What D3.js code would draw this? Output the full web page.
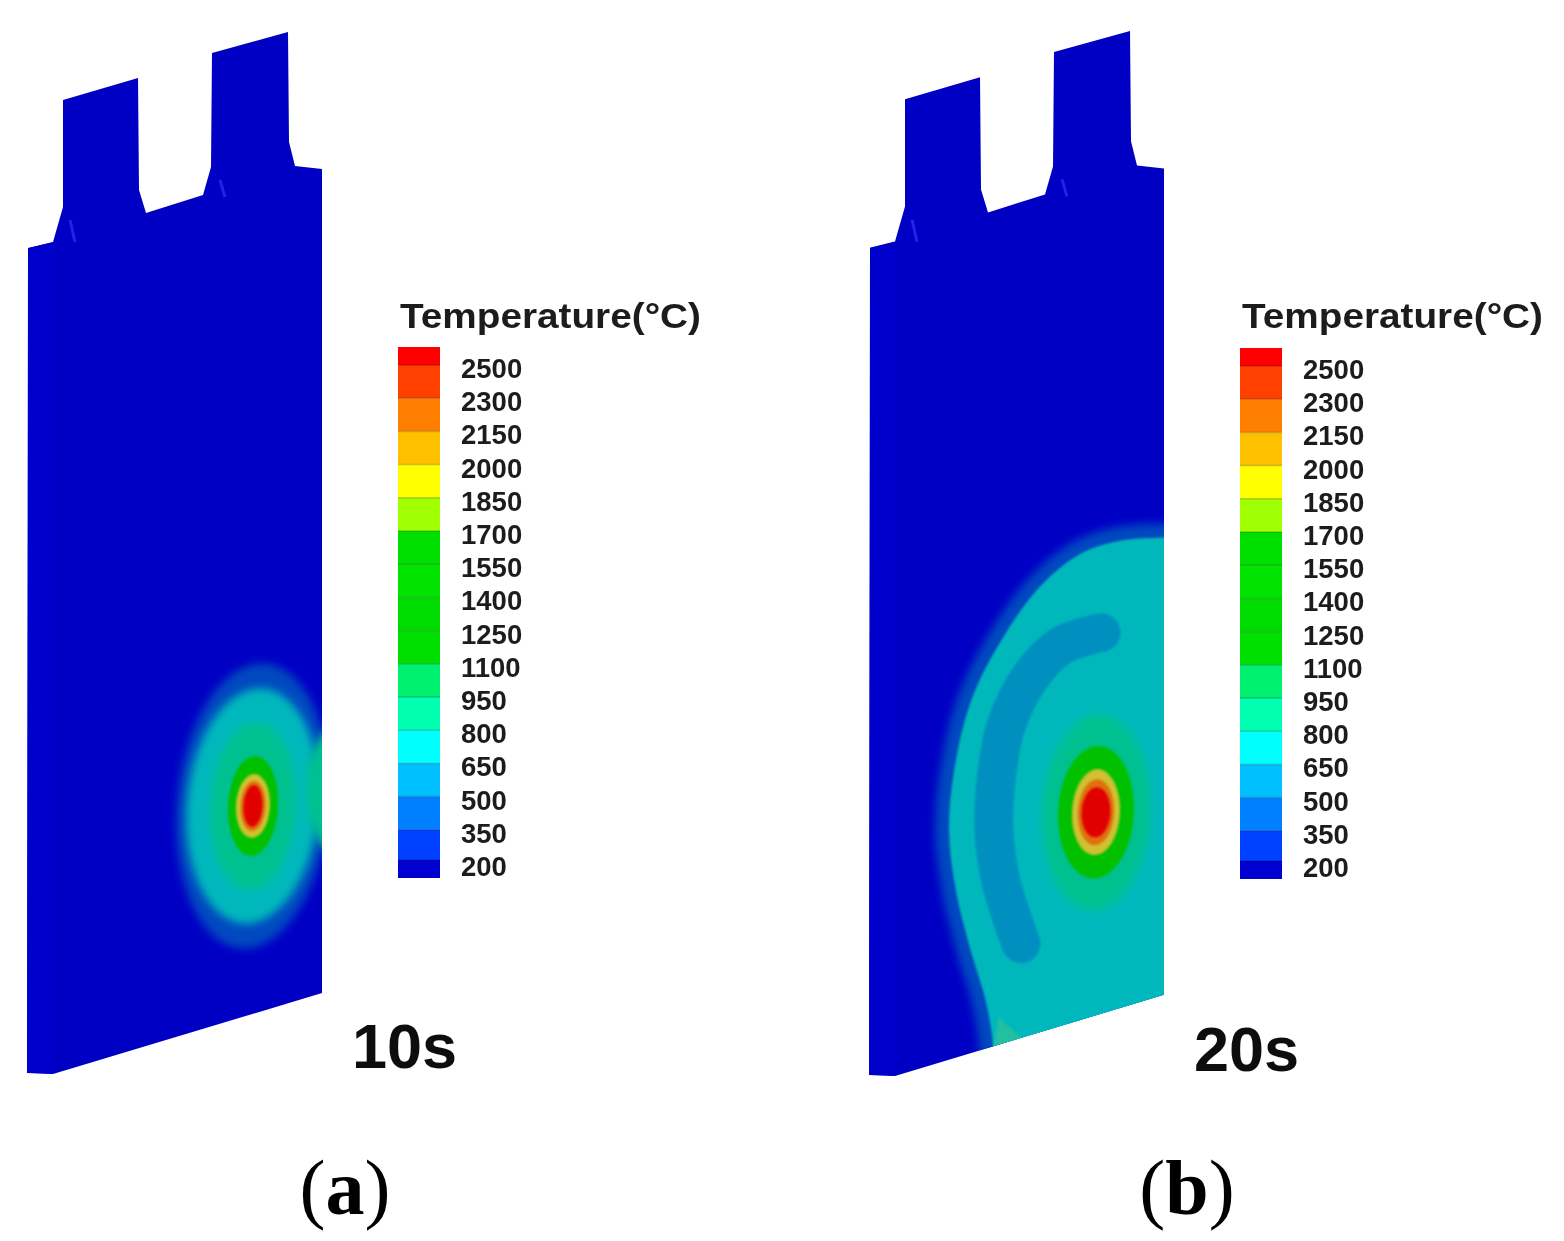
<!DOCTYPE html>
<html>
<head>
<meta charset="utf-8">
<script src="https://cdnjs.cloudflare.com/ajax/libs/d3/7.8.5/d3.min.js"></script>
<style>
html, body { margin: 0; background: #fff; }
svg { display: block; }
</style>
</head>
<body>
<svg id="ch" width="1564" height="1241"></svg>
<script>
// legend
var legendTitle = "Temperature(°C)";
var legendLabels = [2500, 2300, 2150, 2000, 1850, 1700, 1550, 1400, 1250, 1100, 950, 800, 650, 500, 350, 200];
var legendColors = ["#ff0000", "#ff4000", "#ff8000", "#ffc000", "#ffff00", "#a0ff00", "#00e000", "#00e400", "#00dc00", "#00e000",
    "#00f070", "#00ffb0", "#00ffff", "#00c0ff", "#0080ff", "#0040ff", "#0000d0"];

// plate outline, plate units
var plateOutline = [[2,218],[27,212],[31,198],[37,177],[37,70],[112,48],[113,160],[120,183],[177,165],[185,137],[186,23],
    [262,2],[263,112],[269,136],[296,139],[296,963],[27,1044],[1,1043]];
var plateSide = [[2,218],[27,212],[27,1044],[1,1043]];
var tabMarks = [[[44,190],[49,212]], [[194,150],[199,167]], [[23,214],[23,1043]]];

// temperature rings around the hot spot: half width, half height
var ringTemps = [500, 800, 950, 1250, 1850, 2150, 2500];
var ringsA = [[76,143],[66,118],[43,84],[25,50],[17,32],[12.5,25],[9.5,21]];
var ringsB = [[54,98],[38,66],[24,43],[18,33],[14.5,25]];
var ringTempsB = [950, 1250, 1850, 2150, 2500];
var spotA = [227,776];
var spotB = [228,781];
var edgeBandA = [318,760,38,68];

// 20 s: spread front, cooler arc, corner patch
var frontB = [[300,507],[253,510],[213,523],[173,555],[133,610],[103,670],[86,740],[81,800],[88,860],[103,920],[118,970],[126,1020],[128,1060]];
var frontCloseB = [[320,1060],[320,507]];
var arcB = [[233,602],[193,615],[163,645],[138,695],[128,750],[126,800],[133,850],[153,912]];
var cornerB = [[125,1018],[131,985],[150,1003],[160,1015]];
var rightEdgeB = [[296,510],[296,963]];

var panelLabels = ["10s", "20s"];
var panelLetters = ["a", "b"];

// colours on the plate are darker than the legend
var plateColor = d3.scaleOrdinal()
    .domain([500, 650, 800, 950, 1250, 1850, 2150, 2500])
    .range(["#0048c0", "#0090c0", "#00b8bc", "#00c090", "#00c000", "#d0c030", "#e07010", "#e00000"]);

var svg = d3.select("#ch");
var defs = svg.append("defs");

function blur(id, dev) {
    defs.append("filter").attr("id", id)
        .attr("x", "-30%").attr("y", "-30%").attr("width", "160%").attr("height", "160%")
        .append("feGaussianBlur").attr("stdDeviation", dev);
}
blur("soft", 4);
blur("softer", 1.3);
blur("edge", 0.7);
blur("txt", 0.7);

var panels = [
    {id: "a", x: d3.scaleLinear().domain([0,296]).range([26,322]), y: d3.scaleLinear().domain([0,1045]).range([30,1075])},
    {id: "b", x: d3.scaleLinear().domain([0,296]).range([868,1164]), y: d3.scaleLinear().domain([0,1045]).range([29,1077])}
];

panels.forEach(function (p, i) {
    var line = d3.line().x(function (d) { return p.x(d[0]); }).y(function (d) { return p.y(d[1]); });
    var smooth = d3.line().x(function (d) { return p.x(d[0]); }).y(function (d) { return p.y(d[1]); }).curve(d3.curveCatmullRom);

    defs.append("clipPath").attr("id", "clip" + p.id)
        .append("path").attr("d", line(plateOutline) + "Z");

    var g = svg.append("g");
    g.append("path").attr("d", line(plateOutline) + "Z")
        .attr("fill", "#0000c4").attr("filter", "url(#edge)");

    var field = g.append("g").attr("clip-path", "url(#clip" + p.id + ")");
    field.append("path").attr("d", line(plateSide) + "Z").attr("fill", "#0000cc");

    tabMarks.forEach(function (m) {
        field.append("path").attr("d", line(m))
            .attr("stroke", "#2020ea").attr("stroke-width", 3).attr("fill", "none").attr("filter", "url(#edge)");
    });

    function rings(list, temps, spot, tilt) {
        list.forEach(function (r, k) {
            field.append("ellipse")
                .attr("cx", p.x(spot[0])).attr("cy", p.y(spot[1]))
                .attr("rx", p.x(r[0]) - p.x(0)).attr("ry", p.y(r[1]) - p.y(0))
                .attr("transform", "rotate(" + tilt + " " + p.x(spot[0]) + " " + p.y(spot[1]) + ")")
                .attr("fill", plateColor(temps[k]))
                .attr("filter", temps[k] > 950 ? "url(#softer)" : "url(#soft)");
        });
    }

    if (p.id === "a") {
        rings(ringsA.slice(0, 2), ringTemps.slice(0, 2), spotA, 5);
        field.append("ellipse")
            .attr("cx", p.x(edgeBandA[0])).attr("cy", p.y(edgeBandA[1]))
            .attr("rx", p.x(edgeBandA[2]) - p.x(0)).attr("ry", p.y(edgeBandA[3]) - p.y(0))
            .attr("fill", plateColor(950)).attr("filter", "url(#soft)");
        rings(ringsA.slice(2), ringTemps.slice(2), spotA, 3);
    } else {
        var frontPath = smooth(frontB) + "L" + frontCloseB.map(function (d) { return p.x(d[0]) + "," + p.y(d[1]); }).join("L") + "Z";
        field.append("path").attr("d", frontPath)
            .attr("fill", plateColor(800)).attr("stroke", plateColor(500)).attr("stroke-width", 28)
            .attr("filter", "url(#soft)");
        field.append("path").attr("d", frontPath)
            .attr("fill", plateColor(800)).attr("filter", "url(#softer)");
        field.append("path").attr("d", smooth(arcB))
            .attr("fill", "none").attr("stroke", plateColor(650)).attr("stroke-width", 39)
            .attr("stroke-linecap", "round").attr("filter", "url(#softer)");
        field.append("path").attr("d", line(cornerB) + "Z")
            .attr("fill", "#20c0a0").attr("filter", "url(#softer)");
        rings(ringsB, ringTempsB, spotB, 3);
        field.append("path").attr("d", line(rightEdgeB))
            .attr("stroke", "#00a0a0").attr("stroke-width", 5).attr("fill", "none").attr("filter", "url(#edge)");
    }

    // legend
    var lx = i === 0 ? 398 : 1240;
    var dy = i === 0 ? 0 : 1;
    var ly = d3.scaleLinear().domain([0, legendLabels.length - 1]).range([368 + dy, 866 + dy]);
    var edges = [347 + dy].concat(legendLabels.map(function (d, k) { return ly(k) - (k === 15 ? 6 : 3); }), [878 + dy]);

    var bar = svg.append("g").attr("filter", "url(#edge)");
    bar.selectAll("rect")
        .data(legendColors).enter().append("rect")
        .attr("x", lx).attr("width", 42)
        .attr("y", function (d, k) { return edges[k]; })
        .attr("height", function (d, k) { return edges[k + 1] - edges[k]; })
        .attr("fill", function (d) { return d; });
    // darker seam between the colour bands
    bar.selectAll("line")
        .data(edges.slice(1, -1)).enter().append("line")
        .attr("x1", lx).attr("x2", lx + 42)
        .attr("y1", function (d) { return d; }).attr("y2", function (d) { return d; })
        .attr("stroke", "#000").attr("stroke-opacity", 0.2).attr("stroke-width", 1.5);

    var t = svg.append("g").attr("filter", "url(#txt)")
        .attr("font-family", "'Liberation Sans', Arial, sans-serif").attr("font-weight", "bold").attr("fill", "#1c1c1c");

    t.append("text").attr("x", lx + 2).attr("y", 328)
        .attr("font-size", 35).attr("textLength", 301).attr("lengthAdjust", "spacingAndGlyphs")
        .text(legendTitle);

    t.selectAll(".tick").data(legendLabels).enter().append("text")
        .attr("class", "tick")
        .attr("x", lx + 63)
        .attr("y", function (d, k) { return ly(k); })
        .attr("dy", "0.36em")
        .attr("font-size", 27.5)
        .text(function (d) { return d; });

    t.append("text").attr("x", i === 0 ? 352 : 1194).attr("y", i === 0 ? 1068 : 1071)
        .attr("font-size", 63).attr("fill", "#111").text(panelLabels[i]);

    svg.append("text")
        .attr("x", i === 0 ? 345 : 1187).attr("y", 1214)
        .attr("text-anchor", "middle")
        .attr("font-family", "'Liberation Serif', 'Times New Roman', serif")
        .attr("font-size", 78)
        .attr("fill", "#000")
        .text("(")
        .append("tspan").attr("font-weight", "bold").text(panelLetters[i])
        .select(function () { return this.parentNode; })
        .append("tspan").text(")");
});
</script>
</body>
</html>
